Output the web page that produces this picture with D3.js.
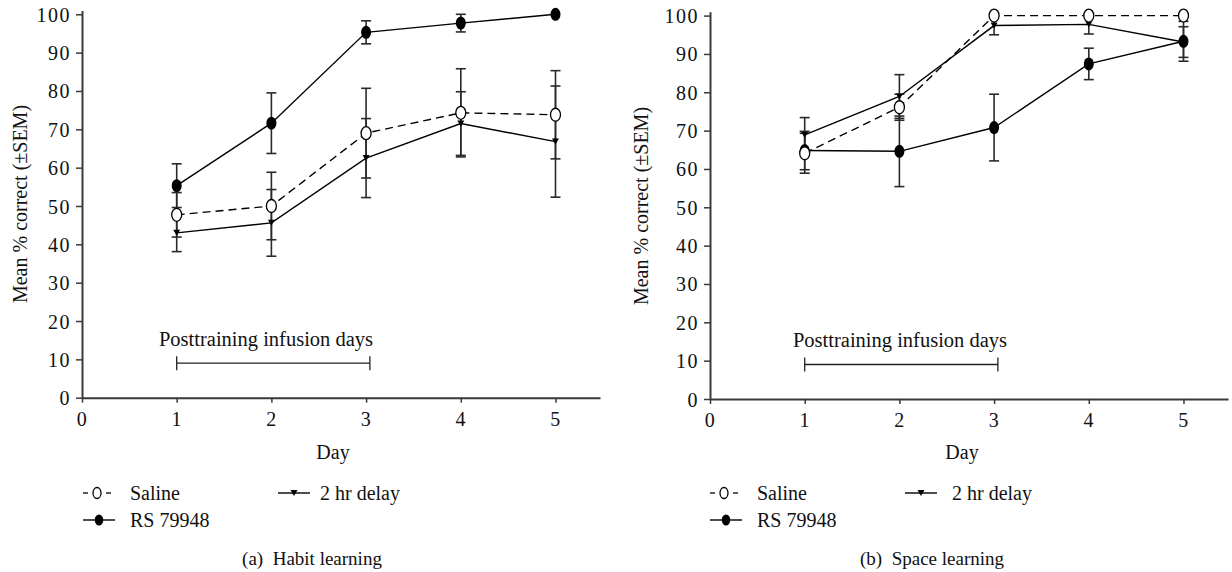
<!DOCTYPE html>
<html>
<head>
<meta charset="utf-8">
<script src="https://cdn.jsdelivr.net/npm/d3@7"></script>
<style>
  body { margin: 0; background: #fff; }
  svg text { font-family: "Liberation Serif", "DejaVu Serif", serif !important; fill: #111; }
</style>
</head>
<body>
<script>
// days on the x axis
const days = [1, 2, 3, 4, 5];
const xTicks = [0, 1, 2, 3, 4, 5];
const yTicks = [0, 10, 20, 30, 40, 50, 60, 70, 80, 90, 100];

// (a) habit learning
const habitSaline = [47.7, 50.0, 69.0, 74.3, 73.8];
const habitSalineErr = [5.8, 8.8, 11.7, 11.5, 11.5];
const habitRS = [55.3, 71.6, 95.3, 97.7, 100];
const habitRSErr = [5.7, 7.9, 3.0, 2.3, 0];
const habit2hr = [43.0, 45.6, 62.5, 71.5, 66.8];
const habit2hrErr = [4.9, 8.7, 10.3, 8.3, 14.5];

// (b) space learning
const spaceSaline = [64.1, 76.1, 100, 100, 100];
const spaceSalineErr = [5.2, 3.4, 0, 0, 0];
const spaceRS = [64.8, 64.6, 70.8, 87.4, 93.3];
const spaceRSErr = [5.0, 9.2, 8.7, 4.1, 5.2];
const space2hr = [68.9, 78.9, 97.4, 97.7, 93.1];
const space2hrErr = [4.5, 5.7, 2.4, 2.5, 4.0];

const infusionDays = [1, 3.04];
const infusionLevel = 9;

const serif = '"Liberation Serif", "DejaVu Serif", serif';

const svg = d3.select('body').append('svg')
  .attr('width', 1232)
  .attr('height', 572);

function addText(g, str, size) {
  return g.append('text')
    .style('font-family', serif)
    .attr('font-size', size)
    .text(str);
}

function drawPanel(p) {
  const x = d3.scaleLinear().domain([0, 5.47]).range([p.x0, p.x0 + 518]);
  const y = d3.scaleLinear().domain([0, 101]).range([p.y0, p.y0 - 3.834 * 101]);

  const g = svg.append('g');

  // axes
  const xAxis = g.append('g')
    .attr('transform', `translate(0,${p.y0})`)
    .call(d3.axisBottom(x).tickValues(xTicks).tickSize(5).tickSizeOuter(0).tickPadding(8).tickFormat(d3.format('d')));
  const yAxis = g.append('g')
    .attr('transform', `translate(${p.x0},0)`)
    .call(d3.axisLeft(y).tickValues(yTicks).tickSize(6).tickSizeOuter(0).tickPadding(5));
  [xAxis, yAxis].forEach(a => {
    a.attr('font-family', null);
    a.select('.domain').attr('stroke', '#3a3a3a').attr('stroke-width', 2);
    a.selectAll('.tick line').attr('stroke', '#3a3a3a').attr('stroke-width', 1.5);
    a.selectAll('.tick text')
      .style('font-family', serif)
      .attr('font-size', 20)
      .attr('letter-spacing', 1.5)
      .attr('fill', '#111');
  });
  xAxis.selectAll('.tick text').attr('dy', '0.75em');
  yAxis.selectAll('.tick text').attr('dy', '0.35em');

  // axis titles
  addText(g, 'Mean % correct (\u00B1SEM)', 20)
    .attr('transform', `translate(${p.yTitleX},${p.yTitleY}) rotate(-90)`)
    .attr('text-anchor', 'middle')
    .attr('dy', '0.35em');
  addText(g, 'Day', 20)
    .attr('x', p.dayX)
    .attr('y', 459)
    .attr('text-anchor', 'middle');

  // posttraining infusion bracket
  const by = y(infusionLevel);
  g.append('line')
    .attr('x1', x(infusionDays[0])).attr('x2', x(infusionDays[1]))
    .attr('y1', by).attr('y2', by)
    .attr('stroke', '#222').attr('stroke-width', 1.3);
  infusionDays.forEach(d => {
    g.append('line')
      .attr('x1', x(d)).attr('x2', x(d))
      .attr('y1', by - 7).attr('y2', by + 7)
      .attr('stroke', '#222').attr('stroke-width', 1.3);
  });
  addText(g, 'Posttraining infusion days', 20.5)
    .attr('x', p.bracketTextX)
    .attr('y', by - 17)
    .attr('text-anchor', 'middle');

  const line = d3.line().x(d => x(d.day)).y(d => y(d.v));

  const series = p.series.map(s => ({
    ...s,
    pts: days.map((d, i) => ({ day: d, v: s.values[i], e: s.errs[i] }))
  }));

  // lines
  series.forEach(s => {
    g.append('path')
      .datum(s.pts)
      .attr('d', line)
      .attr('fill', 'none')
      .attr('stroke', '#000')
      .attr('stroke-width', 1.4)
      .attr('stroke-dasharray', s.dashed ? '8,5' : null);
  });

  // error bars
  series.forEach(s => {
    s.pts.filter(d => d.e > 0).forEach(d => {
      const cx = x(d.day);
      g.append('line')
        .attr('x1', cx).attr('x2', cx)
        .attr('y1', y(d.v + d.e)).attr('y2', y(d.v - d.e))
        .attr('stroke', '#2a2a2a').attr('stroke-width', 1.6);
      [d.v + d.e, d.v - d.e].forEach(v => {
        g.append('line')
          .attr('x1', cx - 5).attr('x2', cx + 5)
          .attr('y1', y(v)).attr('y2', y(v))
          .attr('stroke', '#2a2a2a').attr('stroke-width', 1.6);
      });
    });
  });

  // markers
  series.forEach(s => {
    s.pts.forEach(d => drawMarker(g, s.type, x(d.day), y(d.v), 1));
  });

  // legend
  p.legend.forEach(l => {
    const s = series.find(q => q.name === l.name);
    drawLegendSymbol(g, s.type, l.sx, l.y);
    addText(g, l.name, 20)
      .attr('x', l.tx)
      .attr('y', l.y)
      .attr('dy', '0.35em');
  });

  // caption
  addText(g, p.caption, 19)
    .attr('x', p.captionX)
    .attr('y', 558)
    .attr('dy', '0.35em')
    .attr('text-anchor', 'middle')
    .style('white-space', 'pre');
}

function drawMarker(g, type, cx, cy, k) {
  if (type === 'open') {
    g.append('ellipse')
      .attr('cx', cx).attr('cy', cy)
      .attr('rx', 5 * k).attr('ry', 6.5 * k)
      .attr('fill', '#fff').attr('stroke', '#000').attr('stroke-width', 1.3);
  } else if (type === 'filled') {
    g.append('ellipse')
      .attr('cx', cx).attr('cy', cy)
      .attr('rx', 5 * k).attr('ry', 6.5 * k)
      .attr('fill', '#000');
  } else {
    const w = 3.5 * k, h = 6 * k;
    g.append('path')
      .attr('d', `M${cx - w},${cy - h / 2}L${cx + w},${cy - h / 2}L${cx},${cy + h / 2}Z`)
      .attr('fill', '#000');
  }
}

function drawLegendSymbol(g, type, sx, cy) {
  if (type === 'open') {
    // "-O-" style symbol
    [[sx, sx + 5], [sx + 23, sx + 28]].forEach(([a, b]) => {
      g.append('line').attr('x1', a).attr('x2', b).attr('y1', cy).attr('y2', cy)
        .attr('stroke', '#000').attr('stroke-width', 1.3);
    });
    g.append('ellipse').attr('cx', sx + 14).attr('cy', cy)
      .attr('rx', 4).attr('ry', 5.5)
      .attr('fill', '#fff').attr('stroke', '#000').attr('stroke-width', 1.3);
  } else {
    g.append('line').attr('x1', sx).attr('x2', sx + 32).attr('y1', cy).attr('y2', cy)
      .attr('stroke', '#000').attr('stroke-width', 1.4);
    drawMarker(g, type, sx + 16, cy, type === 'filled' ? 0.85 : 1);
  }
}

drawPanel({
  x0: 82, y0: 397.7,
  yTitleX: 20, yTitleY: 204,
  dayX: 333,
  bracketTextX: 266,
  captionX: 312,
  caption: '(a)  Habit learning',
  series: [
    { name: 'Saline', type: 'open', dashed: true, values: habitSaline, errs: habitSalineErr },
    { name: '2 hr delay', type: 'tri', values: habit2hr, errs: habit2hrErr },
    { name: 'RS 79948', type: 'filled', values: habitRS, errs: habitRSErr }
  ],
  legend: [
    { name: 'Saline', sx: 83, tx: 130, y: 493 },
    { name: '2 hr delay', sx: 278, tx: 320, y: 493 },
    { name: 'RS 79948', sx: 83, tx: 130, y: 520 }
  ]
});

drawPanel({
  x0: 710, y0: 399,
  yTitleX: 641, yTitleY: 206,
  dayX: 962,
  bracketTextX: 900,
  captionX: 932,
  caption: '(b)  Space learning',
  series: [
    { name: 'RS 79948', type: 'filled', values: spaceRS, errs: spaceRSErr },
    { name: '2 hr delay', type: 'tri', values: space2hr, errs: space2hrErr },
    { name: 'Saline', type: 'open', dashed: true, values: spaceSaline, errs: spaceSalineErr }
  ],
  legend: [
    { name: 'Saline', sx: 710, tx: 757, y: 493 },
    { name: '2 hr delay', sx: 905, tx: 952, y: 493 },
    { name: 'RS 79948', sx: 710, tx: 757, y: 520 }
  ]
});
</script>
</body>
</html>
